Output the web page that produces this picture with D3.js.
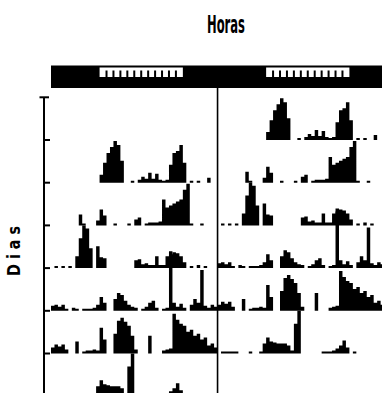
<!DOCTYPE html>
<html><head><meta charset="utf-8">
<script src="https://cdn.jsdelivr.net/npm/d3@7"></script>
<style>body{margin:0;background:#fff;overflow:hidden}</style>
</head><body><svg id="c" width="382" height="393"></svg>
<script>
// Activity counts per half-hour bin (48 bins per day), double-plotted actogram
const binsPerDay = 48;
const day1 = [0,0,0,0,0,0,0,0,0,0, 0,0,0,0,8,20,30,36,42,38, 22,0,0,2,0,3,6,4,10,4, 9,3,2,3,18,30,32,38,20,0, 2,0,2,0,0,5,0,0];
const day2 = [0,0,0,0,0,0,0,0,11,2, 0,0,0,5,16,10,0,0,2,0, 0,0,2,0,6,8,0,2,3,3, 3,4,26,18,20,22,24,26,36,42, 2,0,0,2,0,0,0,0];
const day3 = [0,2,0,2,0,2,0,12,30,43, 40,20,0,22,11,10,0,0,0,0, 0,0,0,0,8,9,4,5,3,3, 12,3,3,12,14,16,15,12,6,0, 2,0,3,0,2,0,0,0];
const day4 = [5,6,4,6,2,0,3,2,0,2, 2,2,3,6,14,8,0,0,12,18, 16,10,6,4,3,0,2,4,8,10, 3,0,2,3,60,8,4,7,3,0, 6,12,8,41,5,3,6,4];
const day5 = [6,9,7,9,4,0,0,12,0,2, 3,3,4,3,26,14,0,0,20,33, 36,32,28,18,4,0,0,0,18,0, 0,0,3,4,5,40,34,30,28,22, 24,18,20,14,16,8,10,6];
const day6 = [0,2,2,2,2,2,0,0,0,2, 0,0,2,10,16,12,11,10,10,10, 8,3,30,43,0,0,0,0,0,0, 2,2,2,3,5,8,13,6,0,2, 0,0,0,0,0,0,0,0];
const days = [day1, day2, day3, day4, day5, day6];
const rowTicks = [1,2,3,4,5,6,7];
const lightOn = 7, lightOff = 19;           // hours
const hourMarks = [8,9,10,11,12,13,14,15,16,17,18];
const titleText = "Horas";
const yLabelText = "D i a s";

const svg = d3.select("#c");
const x = d3.scaleLinear().domain([0, 48]).range([51, 384.1]);
const row = d3.scaleLinear().domain([0, 7]).range([97.3, 396.2]);
const rowH = row(1) - row(0);
const h = d3.scaleLinear().domain([0, 43]).range([0, rowH]);
const barH = v => v > 0 ? Math.max(h(v), 2) : 0;
const step = 24 / binsPerDay;

// title
svg.append("text").attr("x", 207).attr("y", 33)
  .attr("textLength", 38).attr("lengthAdjust", "spacingAndGlyphs")
  .style("font-family", "'Liberation Sans Narrow','DejaVu Sans Condensed',sans-serif")
  .style("font-weight", "bold").style("font-size", "25px").text(titleText);

// light/dark bar
svg.append("rect").attr("x", x(0)).attr("y", 65.5).attr("width", 400).attr("height", 22.5).attr("fill", "#000");
[0, 24].forEach(off => {
  svg.append("rect").attr("x", x(off + lightOn)).attr("y", 67.5)
    .attr("width", x(off + lightOff) - x(off + lightOn)).attr("height", 9.5).attr("fill", "#fff");
  svg.selectAll(null).data(hourMarks).enter().append("rect")
    .attr("x", d => x(off + d) - 1).attr("y", 70.5).attr("width", 2).attr("height", 7).attr("fill", "#000");
});

// activity profiles: day d in right half of row d and left half of row d+1
const halves = [];
days.forEach((vals, i) => {
  const d = i + 1;
  [[d, 24], [d + 1, 0]].forEach(([r, off]) => {
    const pts = vals.map((v, b) => ({hr: off + b * step, v}));
    pts.push({hr: off + 24, v: 0});
    halves.push({r, pts});
  });
});
svg.append("g").selectAll("path").data(halves).enter().append("path")
  .attr("fill", "#000")
  .attr("d", d => d3.area().curve(d3.curveStepAfter)
    .x(p => x(p.hr)).y0(row(d.r)).y1(p => row(d.r) - barH(p.v))(d.pts));

// midline (24 h)
svg.append("line").attr("x1", x(24)).attr("x2", x(24)).attr("y1", 88).attr("y2", 393)
  .attr("stroke", "#000").attr("stroke-width", 1.6);

// left axis
const ax = 44;
svg.append("line").attr("x1", ax).attr("x2", ax).attr("y1", row(0)).attr("y2", 393)
  .attr("stroke", "#000").attr("stroke-width", 2);
svg.append("line").attr("x1", 39.5).attr("x2", 49).attr("y1", row(0)).attr("y2", row(0))
  .attr("stroke", "#000").attr("stroke-width", 2);
svg.append("g").selectAll("line").data(rowTicks).enter().append("line")
  .attr("x1", ax).attr("x2", ax + 6).attr("y1", d => row(d)).attr("y2", d => row(d))
  .attr("stroke", "#000").attr("stroke-width", 2);

// y label
svg.append("text").attr("transform", "translate(20,251) rotate(-90)")
  .attr("text-anchor", "middle").attr("textLength", 50).attr("lengthAdjust", "spacingAndGlyphs")
  .style("font-family", "'Liberation Sans Narrow','DejaVu Sans Condensed',sans-serif")
  .style("font-weight", "bold").style("font-size", "17px").text(yLabelText);
</script>
</body></html>
